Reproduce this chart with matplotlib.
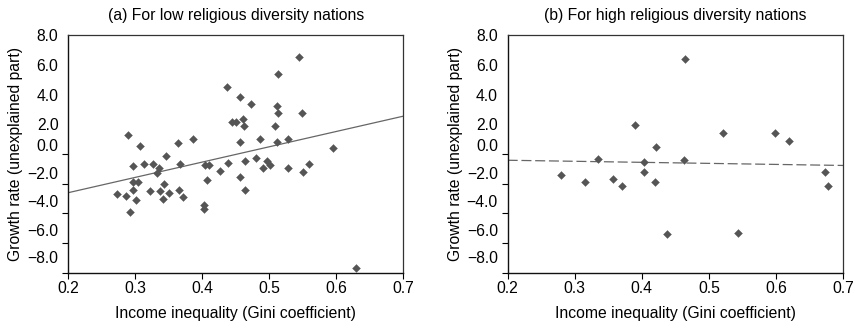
import numpy as np
import matplotlib
matplotlib.use('Agg')
from matplotlib import pyplot as plt

plt.rcParams['font.family'] = ['Liberation Sans', 'DejaVu Sans']

# 低宗教多样性国家：基尼系数与增长率（未解释部分）
low_gini = [0.544, 0.513, 0.437, 0.456, 0.473, 0.512, 0.549, 0.513, 0.445, 0.450,
            0.461, 0.462, 0.509, 0.289, 0.486, 0.528, 0.387, 0.456, 0.512, 0.307,
            0.364, 0.595, 0.346, 0.480, 0.464, 0.497, 0.313, 0.327, 0.367, 0.439,
            0.560, 0.297, 0.404, 0.410, 0.502, 0.335, 0.491, 0.528, 0.426, 0.550,
            0.333, 0.456, 0.407, 0.297, 0.304, 0.343, 0.464, 0.296, 0.322, 0.337,
            0.365, 0.351, 0.273, 0.286, 0.372, 0.301, 0.341, 0.402, 0.403, 0.292,
            0.630]
low_growth = [6.54, 5.38, 4.53, 3.86, 3.34, 3.24, 2.76, 2.74, 2.12, 2.16,
              2.38, 1.91, 1.87, 1.29, 1.04, 1.04, 1.00, 0.79, 0.79, 0.57,
              0.73, 0.39, -0.14, -0.26, -0.44, -0.44, -0.66, -0.66, -0.66, -0.60,
              -0.66, -0.79, -0.73, -0.77, -0.77, -0.95, -0.95, -0.91, -1.16, -1.20,
              -1.31, -1.56, -1.78, -1.91, -1.91, -2.03, -2.45, -2.45, -2.50, -2.50,
              -2.45, -2.63, -2.69, -2.81, -2.88, -3.06, -3.01, -3.46, -3.68, -3.93,
              -7.66]
low_fit_x = [0.2, 0.7]
low_fit_y = [-2.60, 2.54]

# 高宗教多样性国家
high_gini = [0.465, 0.390, 0.521, 0.599, 0.620, 0.421, 0.334, 0.463, 0.403, 0.403,
             0.673, 0.279, 0.357, 0.316, 0.420, 0.370, 0.678, 0.437, 0.544]
high_growth = [6.36, 1.98, 1.40, 1.40, 0.88, 0.46, -0.33, -0.42, -0.57, -1.20,
               -1.20, -1.44, -1.67, -1.91, -1.91, -2.13, -2.13, -5.36, -5.29]
high_fit_x = [0.2, 0.7]
high_fit_y = [-0.42, -0.77]

titles = ['(a) For low religious diversity nations', '(b) For high religious diversity nations']
xticks = [0.2, 0.3, 0.4, 0.5, 0.6, 0.7]
ytick_marks = np.arange(-8, 9, 2)
ylab_pos = [8.0, 6.0, 4.0, 2.0, 0.61, -1.28, -3.16, -5.11, -6.92]
ylab_text = ['8.0', '6.0', '4.0', '2.0', '0.0', '\u22122.0', '\u22124.0', '\u22126.0', '\u22128.0']

fs = 11.3
fig = plt.figure(figsize=(8.57, 3.26), dpi=100)
ax1 = fig.add_axes([0.0797, 0.1626, 0.3906, 0.730])
ax2 = fig.add_axes([0.5924, 0.1626, 0.3913, 0.730])

point_color = '#555555'
for ax, title, gx, gy, fx, fy, ls in [
        (ax1, titles[0], low_gini, low_growth, low_fit_x, low_fit_y, '-'),
        (ax2, titles[1], high_gini, high_growth, high_fit_x, high_fit_y, (0, (8, 3)))]:
    ax.plot(fx, fy, color='#666666', linewidth=0.9, linestyle=ls, zorder=2)
    ax.scatter(gx, gy, marker='D', s=16, color=point_color, edgecolors=point_color,
               linewidths=0.3, zorder=3)
    ax.set_xlim(0.2, 0.7)
    ax.set_ylim(-8, 8)
    ax.set_xticks(xticks)
    ax.set_xticklabels([f'{v:.1f}' for v in xticks], fontsize=fs)
    # 刻度线和刻度标签分开设置
    ax.set_yticks(ytick_marks, minor=True)
    ax.set_yticks(ylab_pos)
    ax.set_yticklabels(ylab_text, fontsize=fs)
    ax.tick_params(axis='y', which='major', length=0, pad=7)
    ax.tick_params(axis='y', which='minor', length=4, width=0.8, direction='out')
    ax.tick_params(axis='x', length=4, width=0.8, direction='out', pad=2)
    ax.set_title(title, fontsize=fs, pad=11)
    ax.set_xlabel('Income inequality (Gini coefficient)', fontsize=fs, labelpad=7)
    ax.set_ylabel('Growth rate (unexplained part)', fontsize=fs, labelpad=3)
    for side in ['left', 'bottom']:
        ax.spines[side].set_color('#111111')
        ax.spines[side].set_linewidth(1.0)
    for side in ['top', 'right']:
        ax.spines[side].set_color('#333333')
        ax.spines[side].set_linewidth(0.9)

plt.savefig('out.png', dpi=100)
